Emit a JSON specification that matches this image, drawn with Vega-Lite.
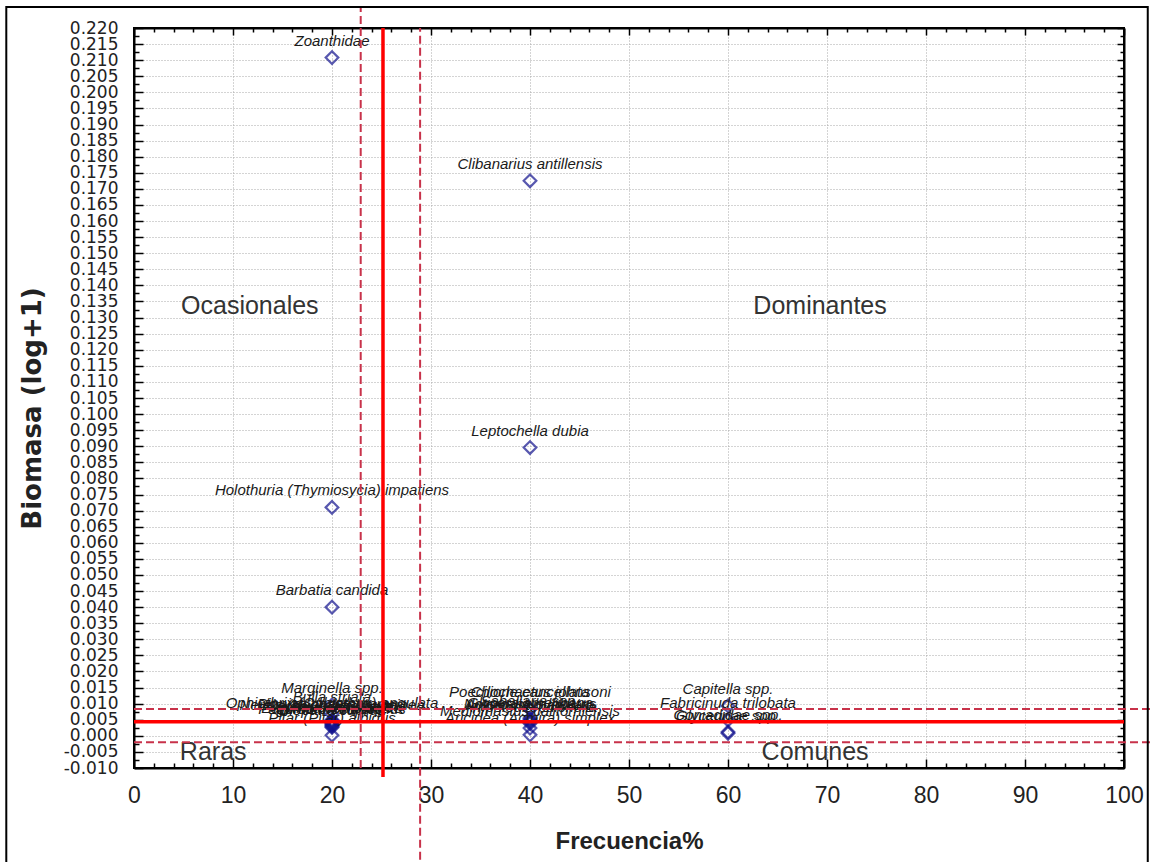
{
  "$schema": "https://vega.github.io/schema/vega-lite/v6.json",
  "width": 990,
  "height": 740,
  "autosize": "none",
  "padding": {"left": 134, "top": 28, "right": 26, "bottom": 94},
  "background": "white",
  "config": {"view": {"stroke": "black", "strokeWidth": 2}},
  "datasets": {
    "species": [
      {"sp": "Zoanthidae", "freq": 20, "bio": 0.2108},
      {"sp": "Holothuria (Thymiosycia) impatiens", "freq": 20, "bio": 0.0710},
      {"sp": "Barbatia candida", "freq": 20, "bio": 0.0400},
      {"sp": "Marginella spp.", "freq": 20, "bio": 0.0096},
      {"sp": "Bulla striata", "freq": 20, "bio": 0.0068},
      {"sp": "Ophiothrix (Ophiothrix) angulata", "freq": 20, "bio": 0.0050},
      {"sp": "Pinnixa chaetopterana", "freq": 20, "bio": 0.0047},
      {"sp": "Nereis (Neanthes) succinea", "freq": 20, "bio": 0.0044},
      {"sp": "Cerithium litteratum", "freq": 20, "bio": 0.0041},
      {"sp": "Alpheus armillatus", "freq": 20, "bio": 0.0038},
      {"sp": "Eurythoe complanata", "freq": 20, "bio": 0.0035},
      {"sp": "Lumbrineris spp.", "freq": 20, "bio": 0.0032},
      {"sp": "Pagurus brevidactylus", "freq": 20, "bio": 0.0029},
      {"sp": "Diopatra cuprea", "freq": 20, "bio": 0.0026},
      {"sp": "Pitar (Pitar) albidus", "freq": 20, "bio": 0.0002},
      {"sp": "Clibanarius antillensis", "freq": 40, "bio": 0.1725},
      {"sp": "Leptochella dubia", "freq": 40, "bio": 0.0896},
      {"sp": "Poecilochaetus johnsoni", "freq": 40, "bio": 0.0084},
      {"sp": "Chione cancellata", "freq": 40, "bio": 0.0082},
      {"sp": "Sabellaria spp.", "freq": 40, "bio": 0.0055},
      {"sp": "Glycera americana", "freq": 40, "bio": 0.0050},
      {"sp": "Notomastus lobatus", "freq": 40, "bio": 0.0046},
      {"sp": "Armandia maculata", "freq": 40, "bio": 0.0042},
      {"sp": "Amphiodia pulchella", "freq": 40, "bio": 0.0038},
      {"sp": "Mediomastus californiensis", "freq": 40, "bio": 0.0024},
      {"sp": "Aricidea (Acmira) simplex", "freq": 40, "bio": 0.0003},
      {"sp": "Capitella spp.", "freq": 60, "bio": 0.0093},
      {"sp": "Fabricinuda trilobata", "freq": 60, "bio": 0.0049},
      {"sp": "Goniadidae spp.", "freq": 60, "bio": 0.0012},
      {"sp": "Glyceridae spp.", "freq": 60, "bio": 0.0008}
    ],
    "regions": [
      {"name": "Ocasionales", "freq": 11.7, "bio": 0.1336},
      {"name": "Dominantes", "freq": 69.3, "bio": 0.1336},
      {"name": "Raras", "freq": 8.0, "bio": -0.0051},
      {"name": "Comunes", "freq": 68.8, "bio": -0.0051}
    ],
    "vsolid": [{"f": 25.15, "ya": -0.0128, "yb": 0.22}],
    "vdash": [{"f": 22.9, "ya": -0.01, "yb": 0.2265}, {"f": 28.9, "ya": -0.046, "yb": 0.22}],
    "hsolid": [{"b": 0.0044, "xa": 0, "xb": 100}],
    "hdash": [{"b": 0.0083, "xa": 0, "xb": 103}, {"b": -0.002, "xa": 0, "xb": 103}],
    "frame": [{"xa": -12.9, "xb": 102.4, "ya": -0.05, "yb": 0.2265}]
  },
  "layer": [
    {
      "data": {"name": "species"},
      "mark": {"type": "point", "shape": "diamond", "filled": false, "size": 160, "strokeWidth": 2.2, "color": "#12128e"},
      "encoding": {
        "x": {
          "field": "freq", "type": "quantitative",
          "scale": {"domain": [0, 100], "nice": false, "zero": false},
          "axis": {
            "orient": "bottom",
            "title": "Frecuencia%",
            "values": [0,2,4,6,8,10,12,14,16,18,20,22,24,26,28,30,32,34,36,38,40,42,44,46,48,50,52,54,56,58,60,62,64,66,68,70,72,74,76,78,80,82,84,86,88,90,92,94,96,98,100],
            "labelExpr": "datum.value % 10 === 0 ? datum.label : ''",
            "labelOverlap": false,
            "labelFlush": false,
            "labelFont": "Liberation Sans",
            "labelFontSize": 23,
            "labelColor": "#222222",
            "labelPadding": 25,
            "tickColor": "black",
            "tickWidth": 1.5,
            "tickSize": {"condition": {"test": "datum.value % 10 === 0", "value": -9}, "value": -5},
            "grid": true,
            "gridColor": "#a8a8a8",
            "gridDash": [1, 2],
            "gridOpacity": {"condition": {"test": "datum.value % 10 === 0", "value": 1}, "value": 0},
            "domainColor": "black",
            "domainWidth": 2,
            "titleFont": "Liberation Sans",
            "titleFontSize": 24,
            "titleFontWeight": "bold",
            "titleColor": "#222222",
            "titleY": 80,
            "titleBaseline": "alphabetic"
          }
        },
        "y": {
          "field": "bio", "type": "quantitative",
          "scale": {"domain": [-0.01, 0.22], "nice": false, "zero": false},
          "axis": {
            "orient": "left",
            "title": "Biomasa (log+1)",
            "values": [-0.01,-0.0075,-0.005,-0.0025,0,0.0025,0.005,0.0075,0.01,0.0125,0.015,0.0175,0.02,0.0225,0.025,0.0275,0.03,0.0325,0.035,0.0375,0.04,0.0425,0.045,0.0475,0.05,0.0525,0.055,0.0575,0.06,0.0625,0.065,0.0675,0.07,0.0725,0.075,0.0775,0.08,0.0825,0.085,0.0875,0.09,0.0925,0.095,0.0975,0.1,0.1025,0.105,0.1075,0.11,0.1125,0.115,0.1175,0.12,0.1225,0.125,0.1275,0.13,0.1325,0.135,0.1375,0.14,0.1425,0.145,0.1475,0.15,0.1525,0.155,0.1575,0.16,0.1625,0.165,0.1675,0.17,0.1725,0.175,0.1775,0.18,0.1825,0.185,0.1875,0.19,0.1925,0.195,0.1975,0.2,0.2025,0.205,0.2075,0.21,0.2125,0.215,0.2175,0.22],
            "labelExpr": "abs(round(datum.value*10000)) % 50 === 0 ? replace(format(datum.value, '.3f'), '\u2212', '-') : ''",
            "labelOverlap": false,
            "labelFlush": false,
            "labelFont": "DejaVu Sans",
            "labelFontSize": 17,
            "labelColor": "#222222",
            "labelPadding": 25,
            "labelBaseline": "middle",
            "tickColor": "black",
            "tickWidth": 1.5,
            "tickSize": {"condition": {"test": "abs(round(datum.value*10000)) % 50 === 0", "value": -9}, "value": -5},
            "grid": true,
            "gridColor": "#a8a8a8",
            "gridDash": [1, 2],
            "gridOpacity": {"condition": {"test": "abs(round(datum.value*10000)) % 50 === 0", "value": 1}, "value": 0},
            "domainColor": "black",
            "domainWidth": 2,
            "titleFont": "DejaVu Sans",
            "titleFontSize": 26,
            "titleFontWeight": "bold",
            "titleColor": "#222222",
            "titleX": -102,
            "titleY": 380,
            "titleAngle": 270,
            "titleAlign": "center",
            "titleBaseline": "middle"
          }
        }
      }
    },
    {
      "data": {"name": "species"},
      "mark": {"type": "text", "font": "Liberation Sans", "fontSize": 15, "fontStyle": "italic", "color": "#1a1a1a", "dy": -17, "baseline": "middle", "align": "center"},
      "encoding": {
        "x": {
          "field": "freq", "type": "quantitative",
          "scale": {"domain": [0, 100], "nice": false, "zero": false},
          "axis": {
            "orient": "top", "title": null, "labels": false, "grid": false,
            "values": [0,2,4,6,8,10,12,14,16,18,20,22,24,26,28,30,32,34,36,38,40,42,44,46,48,50,52,54,56,58,60,62,64,66,68,70,72,74,76,78,80,82,84,86,88,90,92,94,96,98,100],
            "tickColor": "black", "tickWidth": 1.5,
            "tickSize": {"condition": {"test": "datum.value % 10 === 0", "value": -7}, "value": -4},
            "domainColor": "black", "domainWidth": 2
          }
        },
        "y": {
          "field": "bio", "type": "quantitative",
          "scale": {"domain": [-0.01, 0.22], "nice": false, "zero": false},
          "axis": {
            "orient": "right", "title": null, "labels": false, "grid": false,
            "values": [-0.01,-0.0075,-0.005,-0.0025,0,0.0025,0.005,0.0075,0.01,0.0125,0.015,0.0175,0.02,0.0225,0.025,0.0275,0.03,0.0325,0.035,0.0375,0.04,0.0425,0.045,0.0475,0.05,0.0525,0.055,0.0575,0.06,0.0625,0.065,0.0675,0.07,0.0725,0.075,0.0775,0.08,0.0825,0.085,0.0875,0.09,0.0925,0.095,0.0975,0.1,0.1025,0.105,0.1075,0.11,0.1125,0.115,0.1175,0.12,0.1225,0.125,0.1275,0.13,0.1325,0.135,0.1375,0.14,0.1425,0.145,0.1475,0.15,0.1525,0.155,0.1575,0.16,0.1625,0.165,0.1675,0.17,0.1725,0.175,0.1775,0.18,0.1825,0.185,0.1875,0.19,0.1925,0.195,0.1975,0.2,0.2025,0.205,0.2075,0.21,0.2125,0.215,0.2175,0.22],
            "tickColor": "black", "tickWidth": 1.5,
            "tickSize": {"condition": {"test": "abs(round(datum.value*10000)) % 50 === 0", "value": -7}, "value": -4},
            "domainColor": "black", "domainWidth": 2
          }
        },
        "text": {"field": "sp", "type": "nominal"}
      }
    },
    {
      "data": {"name": "regions"},
      "mark": {"type": "text", "font": "Liberation Sans", "fontSize": 25, "color": "#333333", "baseline": "middle", "align": "center"},
      "encoding": {
        "x": {"field": "freq", "type": "quantitative", "scale": {"domain": [0, 100], "nice": false, "zero": false}, "axis": null},
        "y": {"field": "bio", "type": "quantitative", "scale": {"domain": [-0.01, 0.22], "nice": false, "zero": false}, "axis": null},
        "text": {"field": "name", "type": "nominal"}
      }
    },
    {
      "data": {"name": "vdash"},
      "mark": {"type": "rule", "color": "#c8324a", "strokeWidth": 2, "strokeDash": [8, 4]},
      "encoding": {
        "x": {"field": "f", "type": "quantitative", "scale": {"domain": [0, 100], "nice": false, "zero": false}, "axis": null},
        "y": {"field": "ya", "type": "quantitative", "scale": {"domain": [-0.01, 0.22], "nice": false, "zero": false}, "axis": null},
        "y2": {"field": "yb"}
      }
    },
    {
      "data": {"name": "hdash"},
      "mark": {"type": "rule", "color": "#c8324a", "strokeWidth": 2, "strokeDash": [8, 4]},
      "encoding": {
        "y": {"field": "b", "type": "quantitative", "scale": {"domain": [-0.01, 0.22], "nice": false, "zero": false}, "axis": null},
        "x": {"field": "xa", "type": "quantitative", "scale": {"domain": [0, 100], "nice": false, "zero": false}, "axis": null},
        "x2": {"field": "xb"}
      }
    },
    {
      "data": {"name": "vsolid"},
      "mark": {"type": "rule", "color": "#ff0000", "strokeWidth": 3.5},
      "encoding": {
        "x": {"field": "f", "type": "quantitative", "scale": {"domain": [0, 100], "nice": false, "zero": false}, "axis": null},
        "y": {"field": "ya", "type": "quantitative", "scale": {"domain": [-0.01, 0.22], "nice": false, "zero": false}, "axis": null},
        "y2": {"field": "yb"}
      }
    },
    {
      "data": {"name": "hsolid"},
      "mark": {"type": "rule", "color": "#ff0000", "strokeWidth": 3.5},
      "encoding": {
        "y": {"field": "b", "type": "quantitative", "scale": {"domain": [-0.01, 0.22], "nice": false, "zero": false}, "axis": null},
        "x": {"field": "xa", "type": "quantitative", "scale": {"domain": [0, 100], "nice": false, "zero": false}, "axis": null},
        "x2": {"field": "xb"}
      }
    },
    {
      "data": {"name": "frame"},
      "mark": {"type": "rect", "filled": false, "stroke": "black", "strokeWidth": 2, "fill": null},
      "encoding": {
        "x": {"field": "xa", "type": "quantitative", "scale": {"domain": [0, 100], "nice": false, "zero": false}, "axis": null},
        "x2": {"field": "xb"},
        "y": {"field": "ya", "type": "quantitative", "scale": {"domain": [-0.01, 0.22], "nice": false, "zero": false}, "axis": null},
        "y2": {"field": "yb"}
      }
    }
  ],
  "resolve": {"axis": {"x": "independent", "y": "independent"}}
}
